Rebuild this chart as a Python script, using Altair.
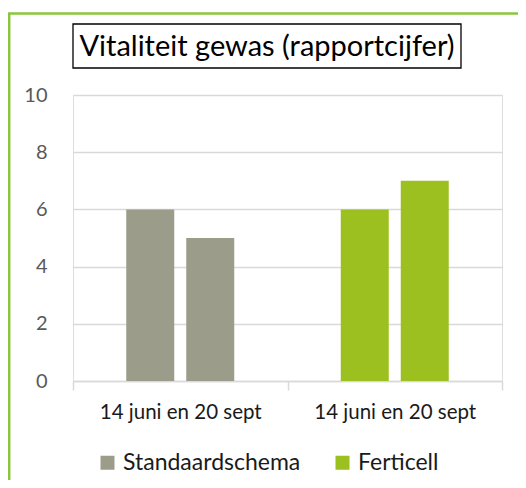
import altair as alt
import pandas as pd

groups = ["Standaardschema", "Standaardschema", "Ferticell", "Ferticell"]
dates = ["14 juni", "20 sept", "14 juni", "20 sept"]
values = [6, 5, 6, 7]
group_order = ["Standaardschema", "Ferticell"]
colors = ["#9c9c8a", "#9bc020"]
y_ticks = [0, 2, 4, 6, 8, 10]
x_label = "14 juni en 20 sept"
title_text = "Vitaliteit gewas (rapportcijfer)"

df = pd.DataFrame({"groep": groups, "datum": dates, "waarde": values})
one = pd.DataFrame({"a": [0]})

FONT = "Lato"

label_expr = ("(datum.value === 'Standaardschema' || datum.value === 'Ferticell') ? '"
              + x_label + "' : ''")

bars = alt.Chart(df).mark_bar().encode(
    x=alt.X("groep:N", sort=group_order,
            scale=alt.Scale(paddingInner=0, paddingOuter=0),
            axis=alt.Axis(title=None, labelExpr=label_expr, labelAngle=0,
                          tickBand="extent", ticks=True, tickSize=9, tickColor="#d9d9d9",
                          tickWidth=1.5, domainColor="#d9d9d9", domainWidth=1.5,
                          labelFontSize=20.5, labelColor="#1a1a1a", labelPadding=12,
                          labelFont=FONT, grid=False)),
    xOffset=alt.XOffset("datum:N", scale=alt.Scale(paddingInner=0.2, paddingOuter=0.8875)),
    y=alt.Y("waarde:Q", scale=alt.Scale(domain=[0, 10], nice=False),
            axis=alt.Axis(title=None, values=y_ticks, domain=False, ticks=False,
                          gridColor="#d9d9d9", gridWidth=1.5, labelFontSize=20,
                          labelColor="#595959", labelPadding=26, labelFont=FONT)),
    color=alt.Color("groep:N", sort=group_order,
                    scale=alt.Scale(domain=group_order, range=colors),
                    legend=alt.Legend(title=None, orient="none", legendX=23, legendY=356,
                                      direction="horizontal", symbolType="square",
                                      symbolSize=196, symbolStrokeWidth=0,
                                      labelFontSize=23, labelFont=FONT, labelColor="#1a1a1a",
                                      columnPadding=30, labelOffset=4, labelLimit=400)),
)

title_box = alt.Chart(one).mark_rect(fill=None, stroke="black", strokeWidth=1.3).encode(
    x=alt.value(0), x2=alt.value(388), y=alt.value(-71), y2=alt.value(-27)
)
title_mark = alt.Chart(one).mark_text(fontSize=29, font=FONT, color="black",
                                      align="center", baseline="middle").encode(
    x=alt.value(194), y=alt.value(-48), text=alt.value(title_text)
)
border = alt.Chart(one).mark_rect(fill=None, stroke="#8cc63f", strokeWidth=2.5).encode(
    x=alt.value(-63.8), x2=alt.value(700), y=alt.value(-81.5), y2=alt.value(600)
)

chart = alt.layer(border, bars, title_box, title_mark).properties(
    width=429, height=286,
    autosize=alt.AutoSizeParams(type="none"),
    padding={"left": 65, "top": 87, "right": 16, "bottom": 99},
).configure_view(stroke=None).configure(font=FONT, background="white")

chart.save("out.html", embed_options={"renderer": "svg", "actions": False})
